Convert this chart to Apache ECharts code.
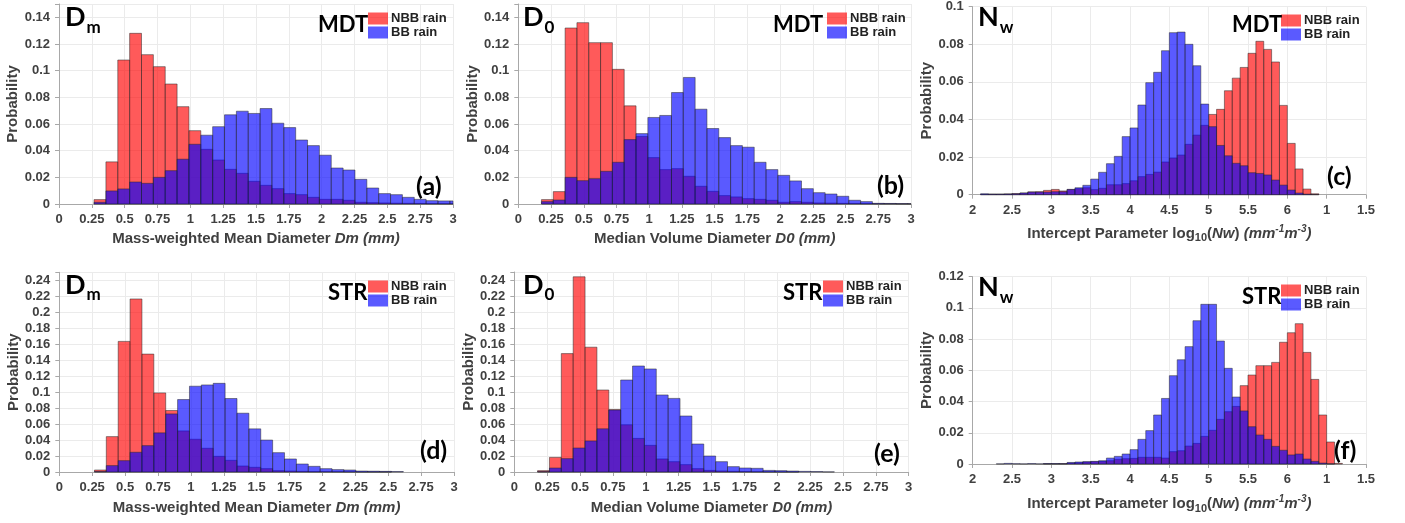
<!DOCTYPE html>
<html><head><meta charset="utf-8">
<script src="https://cdn.jsdelivr.net/npm/echarts@6/dist/echarts.min.js"></script>
<style>html,body{margin:0;padding:0;background:#fff}#c{width:1405px;height:523px}</style>
</head><body><div id="c"></div>
<script>
// ---------------- DATA ----------------
const LEGEND_NAMES = ['NBB rain', 'BB rain'];
// histogram bins (left edge of first bin, bin width)
const DM_BIN_START = 0.267;
const D0_BIN_START = 0.177;
const D_BIN_WIDTH = 0.0903;
const NW_BIN_START = 2.1;
const NW_BIN_WIDTH = 0.1;
const NW_TICK_LABELS = ['2', '2.5', '3', '3.5', '4', '4.5', '5', '5.5', '6', '1', '1.5'];

// (a) MDT Dm
const mdtDmNBB = [0.0033, 0.0316, 0.108, 0.128, 0.112, 0.103, 0.090, 0.073, 0.055, 0.041, 0.033, 0.026, 0.023, 0.017, 0.014, 0.0115, 0.0078, 0.007, 0.005, 0.0035, 0.0035, 0.0028, 0.0013, 0.001, 0.0008, 0.0006, 0.0005, 0.0004, 0.0003, 0.0002, 0.0002];
const mdtDmBB = [0.0013, 0.0098, 0.0113, 0.0165, 0.0155, 0.020, 0.025, 0.0336, 0.0448, 0.0516, 0.058, 0.0669, 0.0696, 0.0679, 0.0716, 0.0606, 0.0573, 0.048, 0.0438, 0.0366, 0.027, 0.0255, 0.0185, 0.012, 0.0078, 0.007, 0.005, 0.0035, 0.0025, 0.0023, 0.0023];
// (b) MDT D0
const mdtD0NBB = [0.0033, 0.0093, 0.132, 0.136, 0.121, 0.121, 0.101, 0.0736, 0.0506, 0.0348, 0.0258, 0.0265, 0.0208, 0.0133, 0.0095, 0.0063, 0.0053, 0.004, 0.0035, 0.0028, 0.0013, 0.0018, 0.0013, 0.0008, 0.0007, 0.0005, 0.0004, 0.0003, 0.0002, 0.0002, 0.0001, 0.0001];
const mdtD0BB = [0.0018, 0.003, 0.020, 0.0175, 0.019, 0.0245, 0.0313, 0.0483, 0.0528, 0.0649, 0.0664, 0.0836, 0.0949, 0.0711, 0.0566, 0.0498, 0.0438, 0.0426, 0.0313, 0.0258, 0.0215, 0.0173, 0.0115, 0.0085, 0.0075, 0.0058, 0.0028, 0.0018, 0.0005, 0.0004, 0.0003, 0.0002];
// (c) MDT log10(Nw)
const mdtNwNBB = [0.0002, 0.0003, 0.0003, 0.0004, 0.0006, 0.0009, 0.0015, 0.0016, 0.0023, 0.0028, 0.002, 0.0028, 0.0032, 0.0037, 0.0027, 0.0034, 0.0053, 0.0053, 0.0059, 0.0074, 0.0096, 0.0108, 0.012, 0.0174, 0.0195, 0.0211, 0.0268, 0.0317, 0.0369, 0.0427, 0.0454, 0.0553, 0.062, 0.0677, 0.0752, 0.0816, 0.0773, 0.0706, 0.0475, 0.0273, 0.0137, 0.003, 0.0005];
const mdtNwBB = [0.0005, 0.0003, 0.0003, 0.0004, 0.0005, 0.0009, 0.0014, 0.0014, 0.0014, 0.0016, 0.0016, 0.0028, 0.0037, 0.005, 0.0083, 0.0119, 0.0165, 0.0204, 0.0309, 0.0355, 0.0477, 0.0596, 0.0651, 0.0766, 0.0862, 0.0865, 0.080, 0.0686, 0.0482, 0.0362, 0.0262, 0.0207, 0.0167, 0.0154, 0.0117, 0.0113, 0.0105, 0.0078, 0.0051, 0.0025, 0.0009, 0.0003, 0.0001];
// (d) STR Dm
const strDmNBB = [0.0025, 0.0443, 0.1635, 0.2166, 0.1476, 0.099, 0.077, 0.0514, 0.041, 0.0297, 0.0196, 0.0146, 0.0075, 0.0059, 0.0042, 0.0017, 0.0012, 0.0008, 0.0005, 0.0004, 0.0003, 0.0002, 0.0001, 0.0001, 0.0001];
const strDmBB = [0.0005, 0.008, 0.0142, 0.0247, 0.033, 0.049, 0.0727, 0.0907, 0.1074, 0.109, 0.111, 0.092, 0.0736, 0.054, 0.040, 0.0242, 0.0163, 0.010, 0.0071, 0.0042, 0.003, 0.0025, 0.0012, 0.001, 0.0008, 0.0006];
// (e) STR D0
const strD0NBB = [0.0017, 0.0183, 0.148, 0.244, 0.156, 0.1025, 0.078, 0.059, 0.042, 0.0333, 0.0163, 0.0129, 0.0092, 0.0042, 0.002, 0.0013, 0.0008, 0.0005, 0.0003, 0.0002, 0.0001, 0.0001];
const strD0BB = [0.0004, 0.005, 0.0167, 0.030, 0.0388, 0.054, 0.0775, 0.115, 0.1325, 0.1288, 0.0963, 0.092, 0.070, 0.035, 0.020, 0.0129, 0.0067, 0.005, 0.0046, 0.002, 0.0017, 0.0012, 0.0008, 0.0006, 0.0002];
// (f) STR log10(Nw)
const strNwNBB = [0, 0, 0, 0, 0, 0, 0, 0, 0.0001, 0.0001, 0.0002, 0.0006, 0.0008, 0.0013, 0.0015, 0.0017, 0.0021, 0.003, 0.0034, 0.0036, 0.0043, 0.0043, 0.0043, 0.0038, 0.0079, 0.0085, 0.0115, 0.0132, 0.0177, 0.0216, 0.0286, 0.0335, 0.0369, 0.0502, 0.057, 0.063, 0.063, 0.0651, 0.078, 0.0841, 0.0899, 0.0715, 0.0542, 0.0314, 0.0141, 0.0004];
const strNwBB = [0, 0, 0.0001, 0.0004, 0.0002, 0.0001, 0.0003, 0.0001, 0.0003, 0.0003, 0.0002, 0.001, 0.0013, 0.0015, 0.0017, 0.0021, 0.0038, 0.0049, 0.0064, 0.0092, 0.0158, 0.0214, 0.0314, 0.042, 0.0566, 0.0668, 0.0752, 0.0918, 0.1023, 0.1023, 0.0788, 0.0613, 0.0429, 0.034, 0.0239, 0.0186, 0.0158, 0.0113, 0.0088, 0.0058, 0.0064, 0.0032, 0.0017, 0.0006, 0.0001, 0];

// ---------------- LAYOUT / STYLE ----------------
const FONT = 'Liberation Sans';
const BIGFONT = 'Lato';
const TXT = '#404040';
const RED = 'rgba(255,0,0,0.647)';
const BLUE = 'rgba(0,0,255,0.647)';
const EDGE = 'rgba(40,40,40,0.5)';

const xNameD_m = 'Mass-weighted Mean Diameter {i|Dm (mm)}';
const xNameD_0 = 'Median Volume Diameter {i|D0 (mm)}';
const xNameNw = 'Intercept Parameter log{sub|10}({i|Nw}) {i|(mm}{sup|-1}{i|m}{sup|-3}{i|)}';

const panels = [
  {grid: {left: 59, top: 4, width: 394, height: 200}, kind: 'D', ymax: 0.15, nbb: mdtDmNBB, bb: mdtDmBB, start: DM_BIN_START, w: D_BIN_WIDTH, xname: xNameD_m, ngap: 27,
   title: ['D', 'm'], tpos: [65, 17.4], reg: 'MDT', rpos: [318, 24.5], tag: '(a)', gpos: [416, 186.5], leg: [368, 12]},
  {grid: {left: 518.3, top: 4, width: 392.7, height: 200}, kind: 'D', ymax: 0.15, nbb: mdtD0NBB, bb: mdtD0BB, start: D0_BIN_START, w: D_BIN_WIDTH, xname: xNameD_0, ngap: 27,
   title: ['D', '0'], tpos: [523, 17.4], reg: 'MDT', rpos: [773, 25], tag: '(b)', gpos: [877, 186], leg: [827, 12]},
  {grid: {left: 972.7, top: 6.7, width: 393.3, height: 188}, kind: 'N', ymax: 0.1, nbb: mdtNwNBB, bb: mdtNwBB, start: NW_BIN_START, w: NW_BIN_WIDTH, xname: xNameNw, ngap: 29,
   title: ['N', 'w'], tpos: [978, 17.6], reg: 'MDT', rpos: [1232, 25], tag: '(c)', gpos: [1327, 177], leg: [1281, 14]},
  {grid: {left: 59.3, top: 272.3, width: 394.7, height: 199.7}, kind: 'D', ymax: 0.25, nbb: strDmNBB, bb: strDmBB, start: DM_BIN_START, w: D_BIN_WIDTH, xname: xNameD_m, ngap: 28,
   title: ['D', 'm'], tpos: [65, 285], reg: 'STR', rpos: [328, 293.3], tag: '(d)', gpos: [420, 451], leg: [368, 280]},
  {grid: {left: 514.3, top: 272, width: 394.4, height: 200}, kind: 'D', ymax: 0.25, nbb: strD0NBB, bb: strD0BB, start: D0_BIN_START, w: D_BIN_WIDTH, xname: xNameD_0, ngap: 28,
   title: ['D', '0'], tpos: [523, 285], reg: 'STR', rpos: [783, 293.3], tag: '(e)', gpos: [874, 453.5], leg: [823, 280]},
  {grid: {left: 972.7, top: 276.7, width: 393.3, height: 187.3}, kind: 'N', ymax: 0.12, nbb: strNwNBB, bb: strNwBB, start: NW_BIN_START, w: NW_BIN_WIDTH, xname: xNameNw, ngap: 30,
   title: ['N', 'w'], tpos: [978, 287.5], reg: 'STR', rpos: [1242, 296.6], tag: '(f)', gpos: [1334, 451], leg: [1281, 284]}
];

function toBins(vals, start, w) {
  return vals.map((v, i) => [start + i * w, start + (i + 1) * w, v]);
}

function renderBar(params, api) {
  const y = api.value(2);
  if (!(y > 0)) return null;
  const bl = api.coord([api.value(0), 0]);
  const tr = api.coord([api.value(1), y]);
  const cs = params.coordSys;
  const shape = echarts.graphic.clipRectByRect(
    {x: bl[0], y: tr[1], width: tr[0] - bl[0], height: bl[1] - tr[1]},
    {x: cs.x, y: cs.y, width: cs.width, height: cs.height});
  if (!shape) return null;
  return {type: 'rect', shape: shape, style: api.style()};
}

const lblStyle = {fontFamily: FONT, fontWeight: 'bold', fontSize: 13, color: TXT};
const nameRich = {
  i: {fontFamily: FONT, fontWeight: 'bold', fontStyle: 'italic', fontSize: 15, color: TXT},
  sub: {fontFamily: FONT, fontWeight: 'bold', fontSize: 11, color: TXT, padding: [9, 0, 0, 0]},
  sup: {fontFamily: FONT, fontWeight: 'bold', fontStyle: 'italic', fontSize: 10, color: TXT, padding: [0, 0, 9, 0]}
};
const noStroke = {stroke: null, lineWidth: 0, textBorderWidth: 0, textBorderColor: 'transparent', textShadowBlur: 0};

const grids = [], xAxes = [], yAxes = [], series = [], legends = [], graphics = [];
panels.forEach((p, k) => {
  grids.push(Object.assign({containLabel: false}, p.grid));
  const isN = p.kind === 'N';
  xAxes.push({
    type: 'value', gridIndex: k,
    min: isN ? 2 : 0, max: isN ? 7 : 3, interval: isN ? 0.5 : 0.25,
    axisLine: {show: true, onZero: false, lineStyle: {color: '#a8a8a8', width: 1}},
    axisTick: {show: true, length: 4, lineStyle: {color: '#a8a8a8'}},
    splitLine: {show: true, lineStyle: {color: '#ebebeb', width: 1}},
    axisLabel: Object.assign({margin: 9, showMinLabel: true, showMaxLabel: true,
      formatter: isN ? (v => NW_TICK_LABELS[Math.round((v - 2) / 0.5)] ?? '') : (v => String(parseFloat(v.toFixed(2))))}, lblStyle),
    name: p.xname, nameLocation: 'middle', nameGap: p.ngap,
    nameTextStyle: {fontFamily: FONT, fontWeight: 'bold', fontSize: 15, color: TXT, rich: nameRich}
  });
  yAxes.push({
    type: 'value', gridIndex: k, min: 0, max: p.ymax, interval: 0.02,
    axisLine: {show: true, lineStyle: {color: '#a8a8a8', width: 1}},
    axisTick: {show: true, length: 4, lineStyle: {color: '#a8a8a8'}},
    splitLine: {show: true, lineStyle: {color: '#ebebeb', width: 1}},
    axisLabel: Object.assign({margin: 9, formatter: v => {
      const r = v / 0.02;
      if (Math.abs(r - Math.round(r)) > 1e-6) return '';
      return String(parseFloat(v.toFixed(2)));
    }}, lblStyle),
    name: 'Probability', nameLocation: 'middle', nameGap: 38,
    nameTextStyle: {fontFamily: FONT, fontWeight: 'bold', fontSize: 15, color: TXT}
  });
  series.push({
    type: 'custom', name: LEGEND_NAMES[0], xAxisIndex: k, yAxisIndex: k,
    renderItem: renderBar, data: toBins(p.nbb, p.start, p.w), encode: {x: [0, 1], y: 2},
    itemStyle: {color: RED, borderColor: EDGE, borderWidth: 1}, silent: true, animation: false
  });
  series.push({
    type: 'custom', name: LEGEND_NAMES[1], xAxisIndex: k, yAxisIndex: k,
    renderItem: renderBar, data: toBins(p.bb, p.start, p.w), encode: {x: [0, 1], y: 2},
    itemStyle: {color: BLUE, borderColor: EDGE, borderWidth: 1}, silent: true, animation: false
  });
  legends.push({
    data: LEGEND_NAMES, orient: 'vertical', left: p.leg[0], top: p.leg[1], padding: 0,
    itemWidth: 20, itemHeight: 12, itemGap: 1, icon: 'rect', selectedMode: false,
    itemStyle: {borderWidth: 0},
    textStyle: {fontFamily: FONT, fontWeight: 'bold', fontSize: 13, color: '#222', padding: [0, 0, 0, -2]}
  });
  graphics.push({
    type: 'text', x: p.tpos[0], y: p.tpos[1], silent: true, z: 100,
    style: Object.assign({text: '{b|' + p.title[0] + '}{s|' + p.title[1] + '}', verticalAlign: 'middle', align: 'left', fill: '#000',
      rich: {b: Object.assign({fontFamily: BIGFONT, fontWeight: 'bold', fontSize: 27, fill: '#000', color: '#000'}, noStroke),
             s: Object.assign({fontFamily: BIGFONT, fontWeight: 'bold', fontSize: 17, fill: '#000', color: '#000', padding: [20, 0, 0, 1]}, noStroke)}}, noStroke)
  });
  graphics.push({
    type: 'text', x: p.rpos[0], y: p.rpos[1], silent: true, z: 100,
    style: Object.assign({text: p.reg, verticalAlign: 'middle', align: 'left', fontFamily: BIGFONT, fontWeight: 'bold', fontSize: 22, fill: '#000'}, noStroke)
  });
  graphics.push({
    type: 'text', x: p.gpos[0], y: p.gpos[1], silent: true, z: 100,
    style: Object.assign({text: p.tag, verticalAlign: 'middle', align: 'left', fontFamily: BIGFONT, fontWeight: 'bold', fontSize: 25, fill: '#000'}, noStroke)
  });
});

const chart = echarts.init(document.getElementById('c'), null, {renderer: 'canvas'});
chart.setOption({
  backgroundColor: '#fff',
  animation: false,
  grid: grids, xAxis: xAxes, yAxis: yAxes, series: series, legend: legends,
  graphic: graphics
});
</script></body></html>
